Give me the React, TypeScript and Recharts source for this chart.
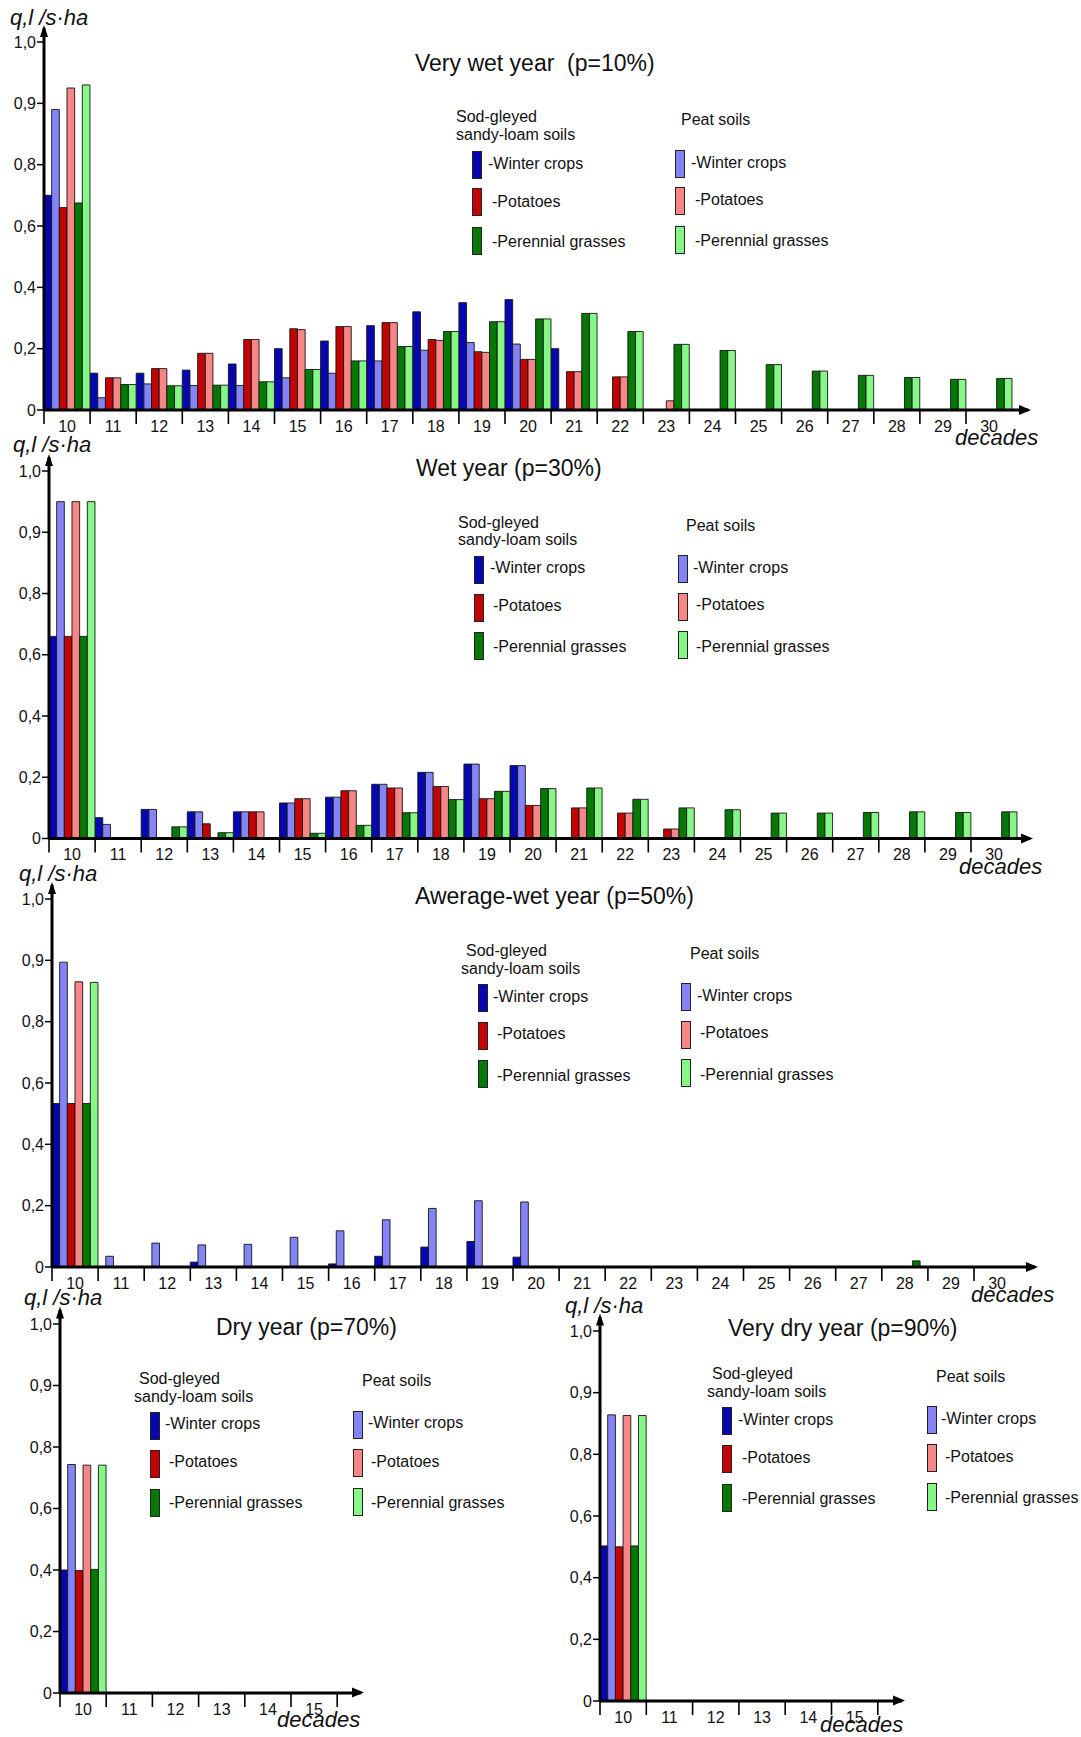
import React from 'react'
import { BarChart, Bar, XAxis, YAxis } from 'recharts'

const FONT = '"Liberation Sans", Arial, Helvetica, sans-serif'

const DECADES = ['10', '11', '12', '13', '14', '15', '16', '17', '18', '19', '20', '21', '22', '23', '24', '25', '26', '27', '28', '29', '30']
const DECADES_SHORT = ['10', '11', '12', '13', '14', '15']

// the source axis is stretched above 0,8: equal spacing for 0..0,8 by 0,2 and then 0,9 and 1,0
const Y_TICK_VALUES = [0, 0.2, 0.4, 0.6, 0.8, 0.9, 1.0]
const Y_TICK_LABELS = ['0', '0,2', '0,4', '0,6', '0,8', '0,9', '1,0']

// Very wet year (p=10%), q in l/s·ha, decades 10..30
const P10_SOD_WINTER = [0.70, 0.12, 0.12, 0.13, 0.15, 0.20, 0.225, 0.275, 0.32, 0.35, 0.36, 0.20, 0, 0, 0, 0, 0, 0, 0, 0, 0]
const P10_PEAT_WINTER = [0.89, 0.04, 0.085, 0.08, 0.08, 0.105, 0.12, 0.16, 0.195, 0.22, 0.215, 0, 0, 0, 0, 0, 0, 0, 0, 0, 0]
const P10_SOD_POTATO = [0.66, 0.105, 0.135, 0.185, 0.23, 0.265, 0.272, 0.285, 0.23, 0.19, 0.165, 0.125, 0.108, 0, 0, 0, 0, 0, 0, 0, 0]
const P10_PEAT_POTATO = [0.925, 0.105, 0.135, 0.185, 0.23, 0.262, 0.272, 0.285, 0.227, 0.188, 0.165, 0.125, 0.108, 0.03, 0, 0, 0, 0, 0, 0, 0]
const P10_SOD_GRASS = [0.675, 0.083, 0.079, 0.081, 0.092, 0.132, 0.16, 0.207, 0.256, 0.288, 0.297, 0.315, 0.256, 0.214, 0.194, 0.148, 0.127, 0.113, 0.106, 0.1, 0.103]
const P10_PEAT_GRASS = [0.93, 0.083, 0.079, 0.081, 0.092, 0.132, 0.16, 0.207, 0.256, 0.288, 0.297, 0.315, 0.256, 0.214, 0.194, 0.148, 0.127, 0.113, 0.106, 0.1, 0.103]

// Wet year (p=30%)
const P30_SOD_WINTER = [0.66, 0.068, 0.095, 0.087, 0.087, 0.116, 0.135, 0.177, 0.216, 0.243, 0.238, 0, 0, 0, 0, 0, 0, 0, 0, 0, 0]
const P30_PEAT_WINTER = [0.95, 0.046, 0.095, 0.087, 0.087, 0.116, 0.135, 0.177, 0.216, 0.243, 0.238, 0, 0, 0, 0, 0, 0, 0, 0, 0, 0]
const P30_SOD_POTATO = [0.66, 0, 0, 0.048, 0.087, 0.13, 0.156, 0.165, 0.17, 0.13, 0.108, 0.1, 0.083, 0.031, 0, 0, 0, 0, 0, 0, 0]
const P30_PEAT_POTATO = [0.95, 0, 0, 0, 0.087, 0.13, 0.156, 0.165, 0.17, 0.13, 0.108, 0.1, 0.083, 0.031, 0, 0, 0, 0, 0, 0, 0]
const P30_SOD_GRASS = [0.66, 0, 0.038, 0.019, 0, 0.017, 0.043, 0.084, 0.127, 0.154, 0.163, 0.165, 0.128, 0.1, 0.094, 0.083, 0.083, 0.085, 0.087, 0.085, 0.087]
const P30_PEAT_GRASS = [0.95, 0, 0.038, 0.019, 0, 0.017, 0.043, 0.084, 0.127, 0.154, 0.163, 0.165, 0.128, 0.1, 0.094, 0.083, 0.083, 0.085, 0.087, 0.085, 0.087]

// Awerage-wet year (p=50%)
const P50_SOD_WINTER = [0.533, 0, 0, 0.016, 0, 0, 0.01, 0.035, 0.065, 0.083, 0.032, 0, 0, 0, 0, 0, 0, 0, 0, 0, 0]
const P50_PEAT_WINTER = [0.897, 0.035, 0.078, 0.072, 0.074, 0.097, 0.118, 0.154, 0.191, 0.216, 0.212, 0, 0, 0, 0, 0, 0, 0, 0, 0, 0]
const P50_SOD_POTATO = [0.533, 0, 0, 0, 0, 0, 0, 0, 0, 0, 0, 0, 0, 0, 0, 0, 0, 0, 0, 0, 0]
const P50_PEAT_POTATO = [0.865, 0, 0, 0, 0, 0, 0, 0, 0, 0, 0, 0, 0, 0, 0, 0, 0, 0, 0, 0, 0]
const P50_SOD_GRASS = [0.533, 0, 0, 0, 0, 0, 0, 0, 0, 0, 0, 0, 0, 0, 0, 0, 0, 0, 0.02, 0, 0]
const P50_PEAT_GRASS = [0.864, 0, 0, 0, 0, 0, 0, 0, 0, 0, 0, 0, 0, 0, 0, 0, 0, 0, 0, 0, 0]

// Dry year (p=70%), decades 10..15
const P70_SOD_WINTER = [0.40, 0, 0, 0, 0, 0]
const P70_PEAT_WINTER = [0.743, 0, 0, 0, 0, 0]
const P70_SOD_POTATO = [0.398, 0, 0, 0, 0, 0]
const P70_PEAT_POTATO = [0.741, 0, 0, 0, 0, 0]
const P70_SOD_GRASS = [0.402, 0, 0, 0, 0, 0]
const P70_PEAT_GRASS = [0.741, 0, 0, 0, 0, 0]

// Very dry year (p=90%)
const P90_SOD_WINTER = [0.503, 0, 0, 0, 0, 0]
const P90_PEAT_WINTER = [0.864, 0, 0, 0, 0, 0]
const P90_SOD_POTATO = [0.50, 0, 0, 0, 0, 0]
const P90_PEAT_POTATO = [0.863, 0, 0, 0, 0, 0]
const P90_SOD_GRASS = [0.503, 0, 0, 0, 0, 0]
const P90_PEAT_GRASS = [0.863, 0, 0, 0, 0, 0]

const SERIES = [
  { key: 'sodWinter', color: '#0707b2' },
  { key: 'peatWinter', color: '#8484f6' },
  { key: 'sodPotato', color: '#c20404' },
  { key: 'peatPotato', color: '#f78686' },
  { key: 'sodGrass', color: '#067806' },
  { key: 'peatGrass', color: '#86f786' },
]

const ITEM_NAMES = ['-Winter crops', '-Potatoes', '-Perennial grasses']

// position on the stretched axis (0..6, one unit per tick interval)
function axisPos(q: number) {
  for (let i = 1; i < Y_TICK_VALUES.length; i++) {
    if (q <= Y_TICK_VALUES[i]) {
      const a = Y_TICK_VALUES[i - 1]
      const b = Y_TICK_VALUES[i]
      return i - 1 + (q - a) / (b - a)
    }
  }
  return Y_TICK_VALUES.length - 1
}

type Geo = { axisX: number; oneY: number; zeroY: number; catW: number; arrowEnd: number; endTick: boolean }
type LegendCol = { hx: number[]; hy: number[]; head: string[]; sx: number; sTops: number[]; tx: number[]; ty: number[] }
type PanelCfg = {
  geo: Geo
  cats: string[]
  values: number[][]
  title: string
  titleAt: [number, number]
  qAt: [number, number]
  decAt: [number, number]
  sod: LegendCol
  peat: LegendCol
}

const PAD_TOP = 14
const Y_AXIS_W = 40
const X_AXIS_H = 30

function DecadeTick(props: any) {
  const { x, y, payload, index, bw, lastIndex, endTick } = props
  return (
    <g>
      <line x1={x - bw / 2} x2={x - bw / 2} y1={y} y2={y + 14} stroke="#000" strokeWidth={1.6} />
      {endTick && index === lastIndex && (
        <line x1={x + bw / 2} x2={x + bw / 2} y1={y} y2={y + 14} stroke="#000" strokeWidth={1.6} />
      )}
      <text x={x} y={y + 16} textAnchor="middle" dominantBaseline="central" fontSize={16} fontFamily={FONT} fill="#111">
        {payload.value}
      </text>
    </g>
  )
}

function PanelChart({ cfg }: { cfg: PanelCfg }) {
  const { geo, cats, values } = cfg
  const top = geo.oneY - 40
  const height = geo.zeroY + 45 - top
  const width = geo.arrowEnd + 20
  const plotW = cats.length * geo.catW
  const padRight = geo.arrowEnd - (geo.axisX + plotW)
  const rows = cats.map((c, i) => {
    const r: Record<string, string | number> = { decade: c }
    SERIES.forEach((s, j) => {
      r[s.key] = axisPos(values[j][i])
    })
    return r
  })
  const barSize = geo.catW / 6 - 0.02
  return (
    <div style={{ position: 'absolute', left: 0, top }}>
      <BarChart
        width={width}
        height={height}
        data={rows}
        barCategoryGap={0}
        barGap={0}
        margin={{
          top: geo.oneY - PAD_TOP - top,
          right: width - geo.arrowEnd,
          bottom: top + height - geo.zeroY - X_AXIS_H,
          left: geo.axisX - Y_AXIS_W,
        }}
      >
        {SERIES.map((s) => (
          <Bar key={s.key} dataKey={s.key} fill={s.color} stroke="#151515" strokeWidth={0.9} barSize={barSize} isAnimationActive={false} />
        ))}
        <XAxis
          dataKey="decade"
          type="category"
          height={X_AXIS_H}
          interval={0}
          padding={{ left: 0, right: padRight }}
          axisLine={{ stroke: '#000', strokeWidth: 3 }}
          tickLine={false}
          tickSize={0}
          tickMargin={0}
          tick={<DecadeTick bw={geo.catW} lastIndex={cats.length - 1} endTick={geo.endTick} />}
        />
        <YAxis
          type="number"
          width={Y_AXIS_W}
          domain={[0, Y_TICK_VALUES.length - 1]}
          ticks={Y_TICK_VALUES.map((_, i) => i)}
          tickFormatter={(v: number) => Y_TICK_LABELS[v]}
          padding={{ top: PAD_TOP, bottom: 0 }}
          axisLine={{ stroke: '#000', strokeWidth: 3 }}
          tickLine={{ stroke: '#000', strokeWidth: 1.5 }}
          tickSize={7}
          tickMargin={1}
          tick={{ fill: '#111', fontSize: 16, fontFamily: FONT }}
          allowDataOverflow
        />
      </BarChart>
    </div>
  )
}

function Txt({ x, y, size, children, italic }: { x: number; y: number; size: number; children: React.ReactNode; italic?: boolean }) {
  return (
    <div
      style={{
        position: 'absolute',
        left: x,
        top: y,
        transform: 'translateY(-50%)',
        fontSize: size,
        lineHeight: 1,
        fontFamily: FONT,
        fontStyle: italic ? 'italic' : 'normal',
        whiteSpace: 'pre',
        color: '#111',
      }}
    >
      {children}
    </div>
  )
}

function LegendBlock({ col, colors }: { col: LegendCol; colors: string[] }) {
  return (
    <>
      {col.head.map((h, i) => (
        <Txt key={h} x={col.hx[i]} y={col.hy[i]} size={16}>{h}</Txt>
      ))}
      {colors.map((c, i) => (
        <div
          key={c}
          style={{ position: 'absolute', left: col.sx, top: col.sTops[i], width: 10, height: 28, background: c, border: '1.5px solid #222', boxSizing: 'border-box' }}
        />
      ))}
      {ITEM_NAMES.map((n, i) => (
        <Txt key={n} x={col.tx[i]} y={col.ty[i]} size={16}>{n}</Txt>
      ))}
    </>
  )
}

function Decorations({ cfg }: { cfg: PanelCfg }) {
  const { geo } = cfg
  return (
    <>
      <svg style={{ position: 'absolute', left: 0, top: 0, overflow: 'visible' }} width={1} height={1}>
        <polygon points={`${geo.axisX},${geo.oneY - PAD_TOP - 3} ${geo.axisX - 4},${geo.oneY - PAD_TOP + 9} ${geo.axisX + 4},${geo.oneY - PAD_TOP + 9}`} fill="#000" />
        <polygon points={`${geo.arrowEnd + 3},${geo.zeroY} ${geo.arrowEnd - 9},${geo.zeroY - 5} ${geo.arrowEnd - 9},${geo.zeroY + 5}`} fill="#000" />
      </svg>
      <Txt x={cfg.titleAt[0]} y={cfg.titleAt[1]} size={23}>{cfg.title}</Txt>
      <Txt x={cfg.qAt[0]} y={cfg.qAt[1]} size={22} italic>q,l /s·ha</Txt>
      <Txt x={cfg.decAt[0]} y={cfg.decAt[1]} size={22} italic>decades</Txt>
      <LegendBlock col={cfg.sod} colors={[SERIES[0].color, SERIES[2].color, SERIES[4].color]} />
      <LegendBlock col={cfg.peat} colors={[SERIES[1].color, SERIES[3].color, SERIES[5].color]} />
    </>
  )
}

const SOD_HEAD = ['Sod-gleyed', 'sandy-loam soils']
const PEAT_HEAD = ['Peat soils']

const PANELS: PanelCfg[] = [
  {
    geo: { axisX: 44, oneY: 42, zeroY: 410, catW: 46.1, arrowEnd: 1028, endTick: false },
    cats: DECADES,
    values: [P10_SOD_WINTER, P10_PEAT_WINTER, P10_SOD_POTATO, P10_PEAT_POTATO, P10_SOD_GRASS, P10_PEAT_GRASS],
    title: 'Very wet year  (p=10%)',
    titleAt: [415, 63],
    qAt: [10, 18],
    decAt: [955, 438],
    sod: { head: SOD_HEAD, hx: [456, 456], hy: [117, 135], sx: 472, sTops: [151, 188, 227], tx: [488, 492, 492], ty: [164, 202, 242] },
    peat: { head: PEAT_HEAD, hx: [681], hy: [120], sx: 675, sTops: [150, 187, 226], tx: [691, 695, 695], ty: [163, 200, 241] },
  },
  {
    geo: { axisX: 49, oneY: 471, zeroY: 838.5, catW: 46.1, arrowEnd: 1030, endTick: false },
    cats: DECADES,
    values: [P30_SOD_WINTER, P30_PEAT_WINTER, P30_SOD_POTATO, P30_PEAT_POTATO, P30_SOD_GRASS, P30_PEAT_GRASS],
    title: 'Wet year (p=30%)',
    titleAt: [416, 468],
    qAt: [13, 445],
    decAt: [959, 867],
    sod: { head: SOD_HEAD, hx: [458, 458], hy: [523, 540], sx: 474, sTops: [556, 594, 632], tx: [490, 493, 493], ty: [568, 606, 647] },
    peat: { head: PEAT_HEAD, hx: [686], hy: [526], sx: 678, sTops: [555, 593, 631], tx: [693, 696, 696], ty: [568, 605, 647] },
  },
  {
    geo: { axisX: 52, oneY: 899, zeroY: 1267, catW: 46.1, arrowEnd: 1035, endTick: false },
    cats: DECADES,
    values: [P50_SOD_WINTER, P50_PEAT_WINTER, P50_SOD_POTATO, P50_PEAT_POTATO, P50_SOD_GRASS, P50_PEAT_GRASS],
    title: 'Awerage-wet year (p=50%)',
    titleAt: [415, 896],
    qAt: [19, 874],
    decAt: [971, 1295],
    sod: { head: SOD_HEAD, hx: [466, 461], hy: [951, 969], sx: 478, sTops: [984, 1022, 1060], tx: [493, 497, 497], ty: [997, 1034, 1076] },
    peat: { head: PEAT_HEAD, hx: [690], hy: [954], sx: 681, sTops: [983, 1021, 1059], tx: [697, 700, 700], ty: [996, 1033, 1075] },
  },
  {
    geo: { axisX: 60, oneY: 1323.5, zeroY: 1692.5, catW: 46.2, arrowEnd: 361, endTick: true },
    cats: DECADES_SHORT,
    values: [P70_SOD_WINTER, P70_PEAT_WINTER, P70_SOD_POTATO, P70_PEAT_POTATO, P70_SOD_GRASS, P70_PEAT_GRASS],
    title: 'Dry year (p=70%)',
    titleAt: [216, 1327],
    qAt: [24, 1298],
    decAt: [277, 1720],
    sod: { head: SOD_HEAD, hx: [139, 134], hy: [1379, 1397], sx: 150, sTops: [1412, 1450, 1489], tx: [165, 169, 169], ty: [1424, 1462, 1503] },
    peat: { head: PEAT_HEAD, hx: [362], hy: [1381], sx: 353, sTops: [1411, 1449, 1488], tx: [368, 371, 371], ty: [1423, 1462, 1503] },
  },
  {
    geo: { axisX: 600, oneY: 1330.5, zeroY: 1700.5, catW: 46.3, arrowEnd: 902, endTick: true },
    cats: DECADES_SHORT,
    values: [P90_SOD_WINTER, P90_PEAT_WINTER, P90_SOD_POTATO, P90_PEAT_POTATO, P90_SOD_GRASS, P90_PEAT_GRASS],
    title: 'Very dry year (p=90%)',
    titleAt: [728, 1328],
    qAt: [565, 1306],
    decAt: [820, 1725],
    sod: { head: SOD_HEAD, hx: [712, 707], hy: [1374, 1392], sx: 722, sTops: [1407, 1445, 1484], tx: [738, 742, 742], ty: [1420, 1458, 1499] },
    peat: { head: PEAT_HEAD, hx: [936], hy: [1377], sx: 927, sTops: [1406, 1444, 1483], tx: [941, 945, 945], ty: [1419, 1457, 1498] },
  },
]

export default function App() {
  return (
    <div style={{ position: 'absolute', left: 0, top: 0, width: 1081, height: 1737, background: '#fff', overflow: 'hidden' }}>
      {PANELS.map((p) => (
        <PanelChart key={p.title} cfg={p} />
      ))}
      {PANELS.map((p) => (
        <Decorations key={p.title} cfg={p} />
      ))}
    </div>
  )
}
